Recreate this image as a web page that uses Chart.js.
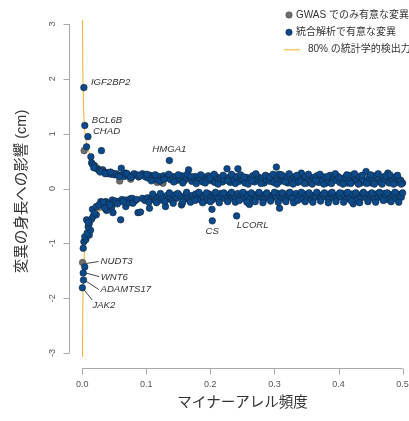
<!DOCTYPE html>
<html>
<head>
<meta charset="utf-8">
<script src="https://cdn.jsdelivr.net/npm/chart.js@4"></script>
<style>
  html, body { margin: 0; padding: 0; overflow: hidden; background: #fff; }
</style>
</head>
<body>
<canvas id="chart" width="420" height="421"></canvas>
<script>
// significant in the integrated analysis (blue)
const blueMaf = [
  0.0026, 0.004, 0.0089, 0.0068, 0.030, 0.0135, 0.0146, 0.021, 0.136, 0.061,
  0.016, 0.019, 0.024, 0.026, 0.029, 0.032, 0.034, 0.037, 0.040, 0.042, 0.045, 0.047, 0.050, 0.053, 0.056,
  0.063, 0.066, 0.068, 0.072, 0.078, 0.081, 0.085, 0.088, 0.094, 0.097, 0.099,
  0.103, 0.106, 0.109, 0.112, 0.115, 0.12, 0.123, 0.127, 0.13, 0.134, 0.138, 0.141, 0.146, 0.149, 0.152,
  0.156, 0.159, 0.162, 0.166, 0.168, 0.171, 0.174, 0.177, 0.181, 0.184, 0.188, 0.191, 0.194, 0.197,
  0.201, 0.204, 0.207, 0.21, 0.213, 0.216, 0.219, 0.222, 0.226, 0.228, 0.231, 0.234, 0.237, 0.24, 0.243,
  0.245, 0.248, 0.251, 0.254, 0.257, 0.26, 0.263, 0.266, 0.269, 0.272, 0.275, 0.278, 0.281, 0.284, 0.287,
  0.29, 0.293, 0.296, 0.299,
  0.303, 0.305, 0.307, 0.309, 0.312, 0.315, 0.318, 0.321, 0.324, 0.327, 0.33, 0.333, 0.336, 0.339, 0.342,
  0.345, 0.348, 0.351, 0.354, 0.357, 0.36, 0.363, 0.366, 0.369, 0.372, 0.375, 0.378, 0.381, 0.384, 0.387,
  0.39, 0.393, 0.396, 0.399,
  0.402, 0.405, 0.408, 0.411, 0.414, 0.417, 0.42, 0.423, 0.426, 0.429, 0.432, 0.435, 0.438, 0.443, 0.445,
  0.448, 0.451, 0.454, 0.457, 0.46, 0.463, 0.466, 0.469, 0.472, 0.477, 0.479, 0.482, 0.485, 0.488, 0.491,
  0.494, 0.497, 0.5,
  // upper band, second layer
  0.018, 0.028, 0.036, 0.044, 0.058, 0.07, 0.076, 0.09,
  0.101, 0.108, 0.114, 0.121, 0.128, 0.135, 0.143, 0.15, 0.157, 0.164, 0.17, 0.178, 0.185, 0.192, 0.199,
  0.206, 0.212, 0.22, 0.227, 0.233, 0.239, 0.247, 0.253, 0.259, 0.265, 0.271, 0.279, 0.286, 0.292, 0.298,
  0.304, 0.311, 0.317, 0.323, 0.329, 0.335, 0.341, 0.347, 0.353, 0.359, 0.365, 0.371, 0.377, 0.383, 0.389,
  0.395, 0.401, 0.407, 0.413, 0.419, 0.425, 0.431, 0.437, 0.444, 0.45, 0.456, 0.462, 0.468, 0.474, 0.48,
  0.486, 0.492, 0.498,
  // lower band
  0.004, 0.0016, 0.002, 0.0003, 0.0016, 0.0026, 0.0057, 0.004, 0.011, 0.0078, 0.013, 0.0093, 0.011, 0.0068,
  0.0146, 0.0093,
  0.017, 0.022, 0.016, 0.022, 0.03, 0.029, 0.037, 0.038, 0.041, 0.046, 0.047, 0.048, 0.048, 0.052, 0.057,
  0.06, 0.062, 0.068, 0.068, 0.072, 0.075, 0.078, 0.082, 0.087, 0.091, 0.094, 0.098,
  0.102, 0.105, 0.108, 0.111, 0.114, 0.117, 0.12, 0.123, 0.126, 0.13, 0.132, 0.135, 0.138, 0.141, 0.144,
  0.147, 0.153, 0.155, 0.156, 0.159, 0.162, 0.165, 0.168, 0.171, 0.174, 0.177, 0.18, 0.183, 0.186, 0.189,
  0.192, 0.195, 0.198,
  0.2025, 0.203, 0.201, 0.204, 0.207, 0.21, 0.213, 0.216, 0.219, 0.222, 0.225, 0.228, 0.231, 0.234, 0.237,
  0.24, 0.241, 0.243, 0.246, 0.249, 0.252, 0.255, 0.258, 0.261, 0.263, 0.266, 0.269, 0.272, 0.275, 0.278,
  0.281, 0.284, 0.287, 0.29, 0.293, 0.296, 0.299,
  0.302, 0.305, 0.308, 0.31, 0.313, 0.316, 0.319, 0.322, 0.325, 0.328, 0.334, 0.337, 0.34, 0.343, 0.346,
  0.349, 0.352, 0.355, 0.358, 0.361, 0.364, 0.367, 0.37, 0.373, 0.376, 0.379, 0.382, 0.385, 0.388, 0.391,
  0.394, 0.397,
  0.4, 0.403, 0.406, 0.409, 0.412, 0.415, 0.418, 0.421, 0.423, 0.426, 0.429, 0.432, 0.435, 0.438, 0.441,
  0.444, 0.447, 0.45, 0.453, 0.456, 0.459, 0.462, 0.465, 0.468, 0.471, 0.474, 0.477, 0.48, 0.483, 0.486,
  0.489, 0.492, 0.495, 0.498,
  // lower band, second layer
  0.019, 0.026, 0.033, 0.035, 0.043, 0.055, 0.064, 0.079, 0.085,
  0.104, 0.11, 0.116, 0.122, 0.129, 0.136, 0.142, 0.149, 0.157, 0.163, 0.169, 0.176, 0.182, 0.188, 0.194,
  0.2, 0.208, 0.214, 0.221, 0.227, 0.233, 0.239, 0.245, 0.251, 0.257, 0.264, 0.27, 0.276, 0.282, 0.288,
  0.294, 0.3, 0.306, 0.312, 0.318, 0.324, 0.33, 0.336, 0.342, 0.348, 0.354, 0.36, 0.366, 0.372, 0.378,
  0.384, 0.39, 0.396, 0.402, 0.408, 0.414, 0.42, 0.427, 0.433, 0.439, 0.446, 0.452, 0.458, 0.464, 0.47,
  0.476, 0.482, 0.488, 0.494, 0.5
];
const blueEffect = [
  1.84, 1.15, 0.945, 0.76, 0.69, 0.58, 0.47, 0.37, 0.51, 0.37,
  0.44, 0.42, 0.36, 0.33, 0.32, 0.34, 0.30, 0.29, 0.27, 0.28, 0.26, 0.28, 0.25, 0.27, 0.24,
  0.25, 0.22, 0.28, 0.24, 0.22, 0.27, 0.25, 0.21, 0.27, 0.23, 0.21,
  0.19, 0.24, 0.22, 0.2, 0.17, 0.22, 0.15, 0.23, 0.19, 0.21, 0.16, 0.22, 0.21, 0.15, 0.19,
  0.23, 0.14, 0.18, 0.34, 0.2, 0.13, 0.18, 0.22, 0.15, 0.19, 0.12, 0.21, 0.16, 0.23,
  0.14, 0.18, 0.11, 0.21, 0.16, 0.19, 0.12, 0.17, 0.36, 0.2, 0.11, 0.18, 0.15, 0.22, 0.36,
  0.13, 0.19, 0.16, 0.1, 0.2, 0.15, 0.18, 0.23, 0.12, 0.17, 0.21, 0.14, 0.19, 0.1, 0.16,
  0.22, 0.13, 0.18, 0.11,
  0.39, 0.17, 0.26, 0.13, 0.2, 0.15, 0.22, 0.1, 0.18, 0.14, 0.21, 0.16, 0.11, 0.19, 0.28,
  0.15, 0.22, 0.1, 0.17, 0.13, 0.2, 0.16, 0.23, 0.11, 0.18, 0.14, 0.21, 0.1, 0.17, 0.24,
  0.13, 0.19, 0.15, 0.22,
  0.11, 0.18, 0.14, 0.21, 0.1, 0.17, 0.24, 0.13, 0.19, 0.15, 0.22, 0.1, 0.16, 0.31, 0.13,
  0.2, 0.1, 0.17, 0.23, 0.14, 0.18, 0.11, 0.21, 0.15, 0.28, 0.1, 0.18, 0.14, 0.21, 0.11,
  0.17, 0.15, 0.1,
  // upper band, second layer
  0.38, 0.3, 0.27, 0.3, 0.22, 0.27, 0.2, 0.24,
  0.26, 0.14, 0.25, 0.13, 0.17, 0.26, 0.12, 0.25, 0.1, 0.26, 0.22, 0.09, 0.25, 0.1, 0.19,
  0.26, 0.08, 0.24, 0.14, 0.26, 0.09, 0.25, 0.21, 0.08, 0.14, 0.27, 0.09, 0.24, 0.2, 0.26,
  0.08, 0.25, 0.12, 0.27, 0.08, 0.24, 0.13, 0.09, 0.26, 0.08, 0.14, 0.26, 0.08, 0.22, 0.09,
  0.27, 0.2, 0.08, 0.25, 0.09, 0.27, 0.08, 0.24, 0.09, 0.25, 0.08, 0.27, 0.08, 0.23, 0.25,
  0.08, 0.24, 0.08,
  // lower band
  -1.43, -1.54, -1.67, -1.81, -1.09, -0.97, -0.93, -0.88, -0.85, -0.81, -0.76, -0.70, -0.64, -0.57,
  -0.56, -0.62,
  -0.51, -0.48, -0.38, -0.33, -0.28, -0.24, -0.24, -0.40, -0.27, -0.34, -0.21, -0.44, -0.26, -0.23, -0.24,
  -0.57, -0.2, -0.21, -0.33, -0.26, -0.19, -0.18, -0.23, -0.44, -0.43, -0.18, -0.22,
  -0.17, -0.36, -0.2, -0.15, -0.22, -0.18, -0.14, -0.21, -0.17, -0.33, -0.13, -0.19, -0.15, -0.22, -0.12,
  -0.18, -0.14, -0.30, -0.27, -0.2, -0.11, -0.16, -0.21, -0.13, -0.18, -0.1, -0.15, -0.2, -0.12, -0.17,
  -0.22, -0.14, -0.1,
  -0.38, -0.59, -0.16, -0.2, -0.11, -0.15, -0.19, -0.09, -0.14, -0.18, -0.12, -0.21, -0.1, -0.16, -0.13,
  -0.19, -0.5, -0.09, -0.15, -0.12, -0.18, -0.1, -0.14, -0.29, -0.17, -0.11, -0.2, -0.13, -0.09, -0.16,
  -0.12, -0.19, -0.1, -0.15, -0.13, -0.18, -0.11,
  -0.14, -0.09, -0.36, -0.17, -0.12, -0.2, -0.1, -0.15, -0.13, -0.18, -0.09, -0.16, -0.12, -0.19, -0.1,
  -0.14, -0.17, -0.11, -0.21, -0.13, -0.16, -0.09, -0.14, -0.18, -0.11, -0.15, -0.12, -0.2, -0.1, -0.16,
  -0.13, -0.18,
  -0.11, -0.15, -0.09, -0.14, -0.19, -0.12, -0.16, -0.1, -0.28, -0.15, -0.2, -0.12, -0.17, -0.09, -0.14,
  -0.18, -0.11, -0.15, -0.13, -0.19, -0.1, -0.16, -0.12, -0.17, -0.09, -0.14, -0.2, -0.11, -0.15, -0.12,
  -0.18, -0.1, -0.14, -0.16,
  // lower band, second layer
  -0.45, -0.3, -0.25, -0.36, -0.3, -0.28, -0.24, -0.27, -0.2,
  -0.25, -0.1, -0.26, -0.09, -0.24, -0.08, -0.27, -0.09, -0.24, -0.07, -0.25, -0.22, -0.07, -0.26, -0.08,
  -0.24, -0.07, -0.26, -0.08, -0.24, -0.07, -0.25, -0.22, -0.07, -0.25, -0.08, -0.24, -0.07, -0.26, -0.08,
  -0.23, -0.07, -0.25, -0.08, -0.24, -0.07, -0.26, -0.22, -0.07, -0.24, -0.08, -0.25, -0.07, -0.23, -0.08,
  -0.26, -0.07, -0.24, -0.08, -0.25, -0.07, -0.23, -0.08, -0.26, -0.07, -0.24, -0.08, -0.25, -0.07, -0.22,
  -0.08, -0.24, -0.07, -0.25, -0.08
];

// significant only in the GWAS (grey)
const grayMaf = [0.003, 0.0585, 0.0756, 0.117, 0.126, 0.36, 0.0006, 0.025, 0.150, 0.33, 0.385, 0.49];
const grayEffect = [0.69, 0.137, 0.17, 0.11, 0.095, 0.12, -1.35, -0.34, -0.10, -0.11, -0.10, -0.10];

// 80% power curve
const powerMaf = [0.0005, 0.001, 0.0015, 0.002, 0.003, 0.004, 0.006, 0.008, 0.01, 0.015, 0.02, 0.03,
  0.04, 0.05, 0.07, 0.1, 0.15, 0.2, 0.3, 0.4, 0.5];
const powerUpper = [3.07, 2.12, 1.74, 1.5, 1.23, 1.06, 0.87, 0.76, 0.68, 0.55, 0.48, 0.39,
  0.34, 0.31, 0.26, 0.22, 0.18, 0.16, 0.14, 0.135, 0.13];
const powerLower = [-3.07, -2.12, -1.74, -1.5, -1.23, -1.06, -0.87, -0.76, -0.68, -0.55, -0.48, -0.39,
  -0.34, -0.31, -0.26, -0.22, -0.18, -0.16, -0.14, -0.135, -0.13];

// labelled genes
const geneNames = ['IGF2BP2', 'BCL6B', 'CHAD', 'HMGA1', 'CS', 'LCORL', 'NUDT3', 'WNT6', 'ADAMTS17', 'JAK2'];
const geneMaf = [0.0026, 0.004, 0.0089, 0.136, 0.203, 0.241, 0.0006, 0.0016, 0.002, 0.0003];
const geneEffect = [1.84, 1.15, 0.945, 0.51, -0.59, -0.5, -1.35, -1.54, -1.67, -1.81];

const xTicks = [0, 0.1, 0.2, 0.3, 0.4, 0.5];
const xTickLabels = ['0.0', '0.1', '0.2', '0.3', '0.4', '0.5'];
const yTicks = [-3, -2, -1, 0, 1, 2, 3];
const yTickLabels = ['-3', '-2', '-1', '0', '1', '2', '3'];

const legendLabels = ['GWAS でのみ有意な変異', '統合解析で有意な変異', '80% の統計学的検出力'];

const FONT = '"Liberation Sans", "Noto Sans CJK JP", sans-serif';
const BLUE = '#0b4a8a', BLUE_EDGE = '#14263d';
const GREY = '#6e6e6e', GREY_EDGE = '#474747';
const ORANGE = '#f5ab2e';

const pts = (xs, ys) => xs.map((v, i) => ({ x: v, y: ys[i] }));

// where each gene label sits relative to its point (pixels)
const labelPos = {
  IGF2BP2: { dx: 7, dy: -5, align: 'left' },
  BCL6B: { dx: 7, dy: -5, align: 'left' },
  CHAD: { dx: 5, dy: -5, align: 'left' },
  HMGA1: { dx: 0, dy: -11, align: 'center' },
  CS: { dx: 0, dy: 10, align: 'center' },
  LCORL: { dx: 0, dy: 9, align: 'left' },
  NUDT3: { dx: 18, dy: -1, align: 'left', lead: [3, 1, 16, -1] },
  WNT6: { dx: 17.5, dy: 4, align: 'left', lead: [2.6, 0, 16, 3.7] },
  ADAMTS17: { dx: 17, dy: 9.5, align: 'left', lead: [2, 0.7, 15.4, 9.5] },
  JAK2: { dx: 10, dy: 18, align: 'left', lead: [1.3, 1.7, 10, 12.4] }
};

const rAxes = {
  id: 'rAxes',
  afterDraw(chart) {
    const { ctx, chartArea: a, scales: { x, y } } = chart;
    ctx.save();

    // axes, R style: line only between first and last tick
    ctx.strokeStyle = '#a8a8a8';
    ctx.lineWidth = 1;
    const axY = Math.round(a.bottom + 1.5) + 0.5;
    const axX = Math.round(a.left) + 0.5;
    ctx.beginPath();
    ctx.moveTo(x.getPixelForValue(xTicks[0]), axY);
    ctx.lineTo(x.getPixelForValue(xTicks[xTicks.length - 1]), axY);
    xTicks.forEach(t => {
      const px = Math.round(x.getPixelForValue(t)) + 0.5;
      ctx.moveTo(px, axY);
      ctx.lineTo(px, axY + 6);
    });
    ctx.moveTo(axX, y.getPixelForValue(yTicks[0]));
    ctx.lineTo(axX, y.getPixelForValue(yTicks[yTicks.length - 1]));
    yTicks.forEach(t => {
      const py = Math.round(y.getPixelForValue(t)) + 0.5;
      ctx.moveTo(axX, py);
      ctx.lineTo(axX - 6, py);
    });
    ctx.stroke();

    // tick labels
    ctx.fillStyle = '#555';
    ctx.font = '9px ' + FONT;
    ctx.textAlign = 'center';
    ctx.textBaseline = 'middle';
    xTicks.forEach((t, i) => ctx.fillText(xTickLabels[i], x.getPixelForValue(t), axY + 16));
    yTicks.forEach((t, i) => {
      ctx.save();
      ctx.translate(axX - 17, y.getPixelForValue(t));
      ctx.rotate(-Math.PI / 2);
      ctx.fillText(yTickLabels[i], 0, 0);
      ctx.restore();
    });

    // axis titles
    ctx.fillStyle = '#333';
    ctx.font = '14.5px ' + FONT;
    ctx.fillText('マイナーアレル頻度', (a.left + a.right) / 2, axY + 34);
    ctx.save();
    ctx.translate(22, (a.top + a.bottom) / 2 + 3);
    ctx.rotate(-Math.PI / 2);
    ctx.fillText('変異の身長への影響 (cm)', 0, 0);
    ctx.restore();

    // gene labels
    ctx.font = 'italic 9.6px ' + FONT;
    ctx.strokeStyle = '#333';
    ctx.lineWidth = 0.9;
    geneNames.forEach((g, i) => {
      const px = x.getPixelForValue(geneMaf[i]);
      const py = y.getPixelForValue(geneEffect[i]);
      const p = labelPos[g];
      if (p.lead) {
        ctx.beginPath();
        ctx.moveTo(px + p.lead[0], py + p.lead[1]);
        ctx.lineTo(px + p.lead[2], py + p.lead[3]);
        ctx.stroke();
      }
      ctx.textAlign = p.align;
      ctx.fillText(g, px + p.dx, py + p.dy);
    });

    // legend (top right)
    ctx.font = '10px ' + FONT;
    ctx.textAlign = 'left';
    const lx = 289, rows = [15, 32.3, 49.3];
    [[GREY, GREY_EDGE], [BLUE, BLUE_EDGE]].forEach(([fill, edge], i) => {
      ctx.beginPath();
      ctx.arc(lx, rows[i], 3.2, 0, Math.PI * 2);
      ctx.fillStyle = fill;
      ctx.fill();
      ctx.strokeStyle = edge;
      ctx.lineWidth = 0.6;
      ctx.stroke();
      ctx.fillStyle = '#333';
      ctx.fillText(legendLabels[i], 296, rows[i]);
    });
    ctx.strokeStyle = ORANGE;
    ctx.lineWidth = 1;
    ctx.beginPath();
    ctx.moveTo(284, rows[2] + 0.5);
    ctx.lineTo(300, rows[2] + 0.5);
    ctx.stroke();
    ctx.fillStyle = '#333';
    ctx.fillText(legendLabels[2], 308, rows[2]);

    ctx.restore();
  }
};

new Chart(document.getElementById('chart'), {
  type: 'scatter',
  data: {
    datasets: [
      {
        label: legendLabels[1],
        data: pts(blueMaf, blueEffect),
        backgroundColor: BLUE,
        borderColor: BLUE_EDGE,
        borderWidth: 0.6,
        pointRadius: 3.3,
        order: 0
      },
      {
        label: legendLabels[0],
        data: pts(grayMaf, grayEffect),
        backgroundColor: GREY,
        borderColor: GREY_EDGE,
        borderWidth: 0.6,
        pointRadius: 3.3,
        order: 1
      },
      {
        label: legendLabels[2],
        data: pts(powerMaf, powerUpper),
        showLine: true,
        borderColor: ORANGE,
        borderWidth: 1,
        pointRadius: 0,
        tension: 0.3,
        order: 2
      },
      {
        label: legendLabels[2],
        data: pts(powerMaf, powerLower),
        showLine: true,
        borderColor: ORANGE,
        borderWidth: 1,
        pointRadius: 0,
        tension: 0.3,
        order: 3
      }
    ]
  },
  options: {
    responsive: false,
    animation: false,
    layout: { padding: { left: 69.4, right: 2.8, top: 10.8, bottom: 54.8 } },
    scales: {
      x: { type: 'linear', min: -0.02, max: 0.52, display: false },
      y: { type: 'linear', min: -3.24, max: 3.24, display: false }
    },
    plugins: {
      legend: { display: false },
      tooltip: { enabled: false }
    }
  },
  plugins: [rAxes]
});
</script>
</body>
</html>
